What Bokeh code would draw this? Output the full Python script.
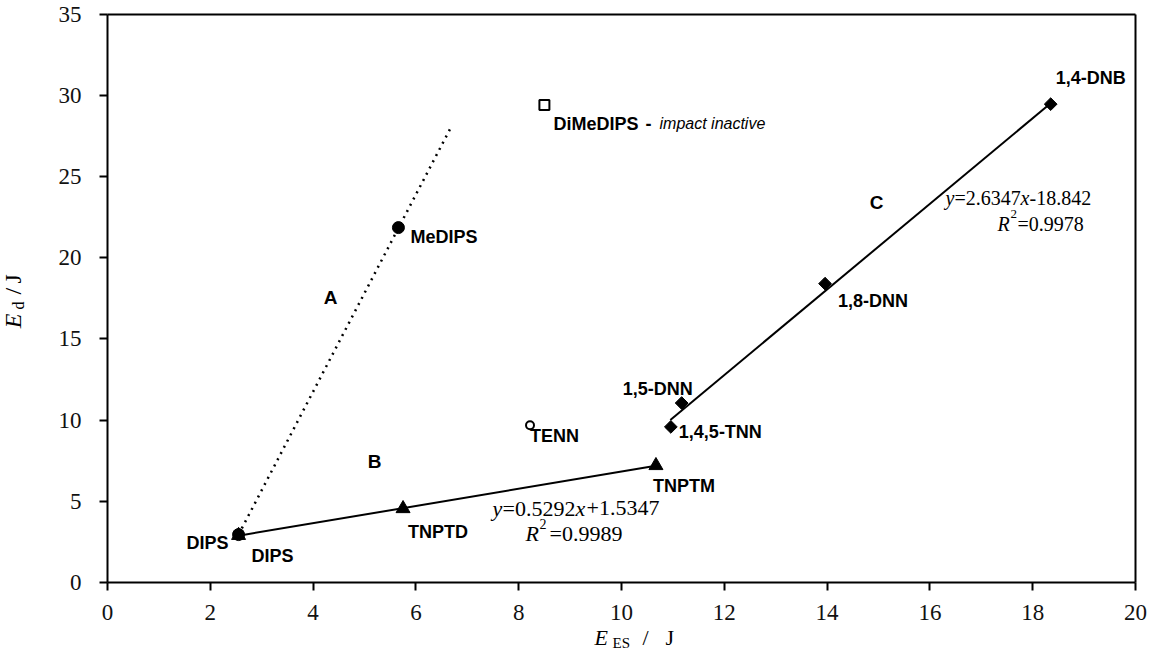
import math
from bokeh.plotting import figure
from bokeh.models import ColumnDataSource, Label, Range1d, FixedTicker, LinearAxis
from bokeh.embed import file_html
from bokeh.resources import INLINE
from bokeh.core.properties import value

# ---------------- data ----------------
x_ticks = [0, 2, 4, 6, 8, 10, 12, 14, 16, 18, 20]
y_ticks = [0, 5, 10, 15, 20, 25, 30, 35]

# series A (filled circles)
circ_names = ["DIPS", "MeDIPS"]
circ_x = [2.55, 5.66]
circ_y = [2.95, 21.85]

# series B (filled triangles)
tri_names = ["DIPS", "TNPTD", "TNPTM"]
tri_x = [2.55, 5.75, 10.67]
tri_y = [2.90, 4.55, 7.20]

# series C (filled diamonds)
dia_names = ["1,4,5-TNN", "1,5-DNN", "1,8-DNN", "1,4-DNB"]
dia_x = [10.96, 11.17, 13.96, 18.35]
dia_y = [9.58, 11.05, 18.40, 29.45]

# single points
tenn_x, tenn_y = [8.22], [9.68]
dimedips_x, dimedips_y = [8.50], [29.40]

# trend lines
lineA_x = [2.55, 6.67]
lineA_y = [2.95, 27.95]
fitB_slope, fitB_icpt = 0.5292, 1.5347
fitC_slope, fitC_icpt = 2.6347, -18.842
fitC_xstart = 10.95

# ---------------- layout geometry ----------------
W, H = 1149, 651                       # canvas (window minus 8px page margins)
# reference plot box (page pixels) and its place on the canvas
RX0, RX1, RY0, RY1 = 115.0, 1143.0, 590.0, 17.5
X0, X1, Y0, Y1 = 107.0, 1135.0, 582.0, 13.5
XMIN, XMAX, YMIN, YMAX = 0.0, 20.0, 0.0, 35.0
sx = (X1 - X0) / (XMAX - XMIN)
sy = (Y0 - Y1) / (YMAX - YMIN)
x_range = Range1d(XMIN - X0 / sx, XMAX + (W - X1) / sx)
y_range = Range1d(YMIN - (H - Y0) / sy, YMAX + Y1 / sy)

def cx(px):   # reference page x -> canvas x
    return X0 + (px - RX0) * (X1 - X0) / (RX1 - RX0)
def cy(py):   # reference page y -> canvas y (from top)
    return Y0 + (py - RY0) * (Y0 - Y1) / (RY0 - RY1)

p = figure(width=W, height=H, x_range=x_range, y_range=y_range,
           output_backend="svg", toolbar_location=None,
           min_border_left=0, min_border_right=0, min_border_top=0, min_border_bottom=0)
p.background_fill_color = "white"
p.border_fill_color = "white"
p.xgrid.visible = False
p.ygrid.visible = False
p.outline_line_color = None

def style_axis(ax, ticks, loc, bounds, standoff):
    ax.fixed_location = loc
    ax.bounds = bounds
    ax.ticker = FixedTicker(ticks=ticks)
    ax.axis_line_color = "black"
    ax.axis_line_width = 2
    ax.major_tick_line_color = "black"
    ax.major_tick_line_width = 2
    ax.major_tick_in = 0
    ax.major_tick_out = 8
    ax.minor_tick_in = 0
    ax.minor_tick_out = 0
    ax.major_label_text_font = "Liberation Serif"
    ax.major_label_text_font_size = "23px"
    ax.major_label_text_color = "#111111"
    ax.major_label_standoff = standoff

style_axis(p.xaxis[0], x_ticks, YMIN, (XMIN, XMAX), 14)
style_axis(p.yaxis[0], y_ticks, XMIN, (YMIN, YMAX), 18)

# top and right box edges
top_ax = LinearAxis(fixed_location=YMAX, bounds=(XMIN, XMAX), ticker=FixedTicker(ticks=[]),
                    axis_line_color="black", axis_line_width=2,
                    major_tick_out=0, minor_tick_out=0, major_label_text_alpha=0)
right_ax = LinearAxis(fixed_location=XMAX, bounds=(YMIN, YMAX), ticker=FixedTicker(ticks=[]),
                      axis_line_color="black", axis_line_width=2,
                      major_tick_out=0, minor_tick_out=0, major_label_text_alpha=0)
p.add_layout(top_ax, "above")
p.add_layout(right_ax, "right")

# ---------------- lines ----------------
p.line(lineA_x, lineA_y, line_color="black", line_width=2.5, line_dash="2 5")
bx = [min(tri_x), max(tri_x)]
p.line(bx, [fitB_slope * v + fitB_icpt for v in bx], line_color="black", line_width=2)
cxs = [fitC_xstart, max(dia_x)]
p.line(cxs, [fitC_slope * v + fitC_icpt for v in cxs], line_color="black", line_width=2)

# ---------------- markers ----------------
p.scatter(circ_x, circ_y, marker="circle", size=12, fill_color="black", line_color="black")
p.scatter(tri_x, tri_y, marker="triangle", size=14, fill_color="black", line_color="black")
p.scatter(dia_x, dia_y, marker="square", angle=math.pi / 4, size=9,
          fill_color="black", line_color="black")
p.scatter(tenn_x, tenn_y, marker="circle", size=8, fill_color="white", line_color="black", line_width=2)
p.scatter(dimedips_x, dimedips_y, marker="square", size=10, fill_color="white", line_color="black", line_width=2)

# ---------------- point labels ----------------
lab_names = ["MeDIPS", "DIPS", "DIPS", "TNPTD", "TNPTM", "TENN",
             "1,4,5-TNN", "1,5-DNN", "1,8-DNN", "1,4-DNB", "DiMeDIPS"]
lab_x = [circ_x[1], circ_x[0], tri_x[0], tri_x[1], tri_x[2], tenn_x[0],
         dia_x[0], dia_x[1], dia_x[2], dia_x[3], dimedips_x[0]]
lab_y = [circ_y[1], circ_y[0], tri_y[0], tri_y[1], tri_y[2], tenn_y[0],
         dia_y[0], dia_y[1], dia_y[2], dia_y[3], dimedips_y[0]]
lab_dx = [12, -10, 13, 5, -3, 0, 8, -59, 13, 5, 9]
lab_dy = [9, 8, 21, 23, 20, 11, 5, -14, 17, -26, 19]
lab_align = ["left", "right", "left", "left", "left", "left", "left", "left", "left", "left", "left"]
src = ColumnDataSource(dict(x=lab_x, y=lab_y, t=lab_names, dx=lab_dx, dy=lab_dy, al=lab_align))
p.text(x="x", y="y", text="t", x_offset="dx", y_offset="dy", text_align="al",
       source=src, text_baseline="middle", text_font=value("Liberation Sans"),
       text_font_style="bold", text_font_size="18px", text_color="black")

# ---------------- free annotations ----------------
def put_c(text, x, y, font="Liberation Serif", size="22px", style="normal",
          align="left", angle=0.0):
    """x, y in canvas pixels from top-left"""
    p.add_layout(Label(x=x, y=H - y, x_units="screen", y_units="screen",
                       text=text, text_font=font,
                       text_font_size=size, text_font_style=style,
                       text_align=align, text_baseline="middle", angle=angle,
                       text_color="black"))

def put(text, px, py, **kw):
    """px, py in reference page pixels"""
    put_c(text, cx(px), cy(py), **kw)

# group letters
put("A", 338, 303, font="Liberation Sans", size="19px", style="bold", align="center")
put("B", 382, 468, font="Liberation Sans", size="19px", style="bold", align="center")
put("C", 884, 207, font="Liberation Sans", size="19px", style="bold", align="center")

# DiMeDIPS note
put("-", 653, 128, font="Liberation Sans", size="18px", style="bold")
put("impact inactive", 667, 128, font="Liberation Sans", size="16px", style="italic")

# equation B
put("y", 500, 515, style="italic")
put("=0.5292", 510, 515)
put("x", 583, 515, style="italic")
put("+1.5347", 594, 515)
put("R", 533, 541, style="italic")
put("2", 547, 531, size="14px")
put("=0.9989", 557, 541)

# equation C
put("y", 953, 203, size="20px", style="italic")
put("=2.6347", 962, 203, size="20px")
put("x", 1028, 203, size="20px", style="italic")
put("-18.842", 1037, 203, size="20px")
put("R", 1005, 229, size="20px", style="italic")
put("2", 1018, 219, size="13px")
put("=0.9978", 1025, 229, size="20px")

# x axis title: E_ES / J  (kept inside the canvas)
put_c("E", cx(602), 637, size="22px", style="italic")
put_c("ES", cx(620), 642, size="15px")
put_c("/", cx(650), 637, size="22px")
put_c("J", cx(673), 637, size="22px")

# y axis title: E_d / J (rotated)
rot = math.pi / 2
put("E", 20, 334, size="24px", style="italic", angle=rot)
put("d", 26, 315, size="16px", angle=rot)
put("/", 20, 300, size="24px", angle=rot)
put("J", 20, 289, size="24px", angle=rot)

open("out.html", "w").write(file_html(p, INLINE))
